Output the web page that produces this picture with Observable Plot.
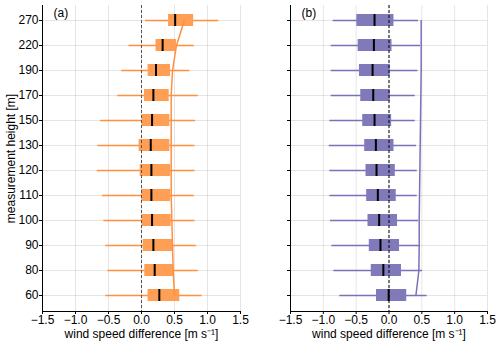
<!DOCTYPE html>
<html>
<head>
<meta charset="utf-8">
<script src="https://cdn.jsdelivr.net/npm/d3@7"></script>
<script src="https://cdn.jsdelivr.net/npm/@observablehq/plot@0.6"></script>
<style>
  html, body { margin: 0; padding: 0; background: #fff; }
  #wrap { position: relative; width: 500px; height: 346px; overflow: hidden; }
  #pa, #pb { position: absolute; top: 0; }
  #pa { left: 0; }
  #pb { left: 250px; }
</style>
</head>
<body>
<div id="wrap"><div id="pa"></div><div id="pb"></div></div>
<script>
// measurement heights (bottom to top)
const heights = [60, 80, 90, 100, 110, 120, 130, 150, 170, 190, 220, 270];

// panel (a)
const aLo   = [-0.54, -0.51, -0.54, -0.57, -0.59, -0.67, -0.66, -0.62, -0.36, -0.30, -0.19, 0.06];
const aQ1   = [0.10, 0.05, 0.025, 0.01, 0.005, -0.02, -0.036, 0.01, 0.046, 0.10, 0.22, 0.41];
const aMed  = [0.27, 0.20, 0.18, 0.16, 0.15, 0.15, 0.14, 0.16, 0.18, 0.22, 0.32, 0.51];
const aQ3   = [0.58, 0.49, 0.48, 0.45, 0.44, 0.44, 0.43, 0.43, 0.42, 0.44, 0.53, 0.79];
const aHi   = [0.92, 0.86, 0.83, 0.81, 0.80, 0.81, 0.81, 0.82, 0.86, 0.73, 0.80, 1.17];
const aLine = [0.50, 0.48, 0.47, 0.46, 0.45, 0.45, 0.45, 0.45, 0.45, 0.47, 0.53, 0.65];

// panel (b)
const bLo   = [-0.75, -0.84, -0.87, -0.89, -0.90, -0.90, -0.91, -0.90, -0.88, -0.88, -0.88, -0.85];
const bQ1   = [-0.19, -0.27, -0.30, -0.32, -0.34, -0.35, -0.37, -0.40, -0.43, -0.45, -0.47, -0.49];
const bMed  = [-0.005, -0.086, -0.13, -0.15, -0.17, -0.19, -0.20, -0.22, -0.24, -0.25, -0.23, -0.22];
const bQ3   = [0.27, 0.19, 0.16, 0.13, 0.11, 0.096, 0.076, 0.04, 0.02, 0.02, 0.046, 0.076];
const bHi   = [0.58, 0.51, 0.48, 0.45, 0.43, 0.43, 0.42, 0.40, 0.40, 0.44, 0.48, 0.45];
const bLine = [0.41, 0.455, 0.46, 0.46, 0.465, 0.47, 0.475, 0.48, 0.485, 0.49, 0.49, 0.49];

const xTicks = [-1.5, -1.0, -0.5, 0.0, 0.5, 1.0, 1.5];
const xLabel = "wind speed difference [m s\u207B\u00B9]";
const yLabel = "measurement height [m]";

function rows(lo, q1, med, q3, hi, line) {
  return heights.map((h, i) => ({h, lo: lo[i], q1: q1[i], med: med[i], q3: q3[i], hi: hi[i], line: line[i]}));
}

function panel({data, tag, color, boxColor, showY, marginLeft, marginRight, zeroColor}) {
  return Plot.plot({
    width: 250,
    height: 346,
    marginLeft,
    marginRight,
    marginTop: 5,
    marginBottom: 35,
    style: {fontFamily: "'Liberation Sans', Arial, sans-serif", fontSize: "12px", color: "#000", background: "#fff"},
    x: {
      domain: [-1.5, 1.5],
      ticks: xTicks,
      tickFormat: d => d.toFixed(1).replace("-", "\u2212"),
      tickSize: 3,
      tickPadding: 1,
      grid: true,
      label: null
    },
    y: {
      type: "band",
      domain: heights.slice().reverse(),
      paddingInner: 0.51,
      paddingOuter: 0.255,
      tickSize: 3,
      tickPadding: 1,
      grid: true,
      tickFormat: showY ? d => String(d) : () => "",
      label: showY ? yLabel : null,
      labelAnchor: "center",
      labelOffset: 36
    },
    marks: [
      Plot.ruleY(data, {y: "h", x1: "lo", x2: "hi", stroke: color, strokeWidth: 1.5}),
      Plot.barX(data, {y: "h", x1: "q1", x2: "q3", fill: boxColor}),
      Plot.ruleX([0], {stroke: zeroColor, strokeDasharray: "3,2", strokeWidth: 1}),
      Plot.lineX(data, {x: "line", y: "h", stroke: color, strokeWidth: 1.5}),
      Plot.tickX(data, {x: "med", y: "h", stroke: "#000", strokeWidth: 2}),
      Plot.ruleX([-1.5], {stroke: "#000", strokeWidth: 1}),
      Plot.frame({anchor: "bottom", stroke: "#000"}),
      Plot.text([tag], {text: d => d, frameAnchor: "top-left", dx: 11, dy: 3, fontSize: 12}),
      Plot.text([xLabel], {text: d => d, frameAnchor: "bottom", lineAnchor: "middle", dy: 22.5, fontSize: 12})
    ]
  });
}

document.getElementById("pa").appendChild(panel({
  data: rows(aLo, aQ1, aMed, aQ3, aHi, aLine),
  tag: "(a)", color: "#ff9040", boxColor: "#ff9e55", showY: true,
  marginLeft: 42, marginRight: 10, zeroColor: "#555"
}));
document.getElementById("pb").appendChild(panel({
  data: rows(bLo, bQ1, bMed, bQ3, bHi, bLine),
  tag: "(b)", color: "#7a72b8", boxColor: "#8079ba", showY: false,
  marginLeft: 40, marginRight: 13, zeroColor: "#000"
}));
</script>
</body>
</html>
